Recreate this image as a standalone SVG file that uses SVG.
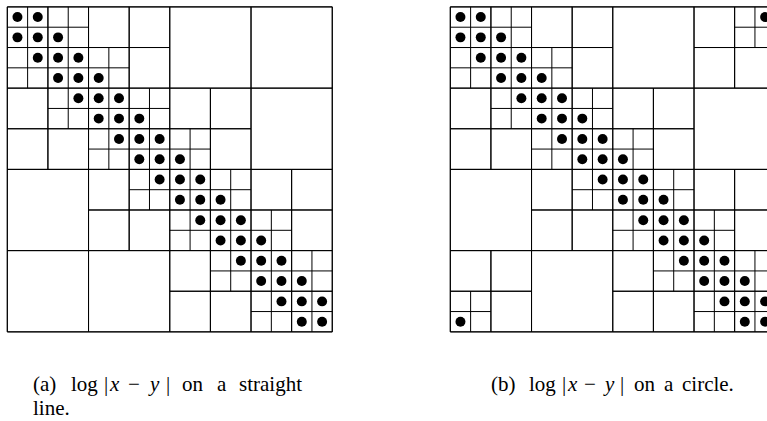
<svg xmlns="http://www.w3.org/2000/svg" xmlns:xlink="http://www.w3.org/1999/xlink" width="767" height="421" viewBox="0 0 767 421">
<style>
.grid{fill:none;stroke:#000;stroke-width:1;vector-effect:non-scaling-stroke}
.dot{fill:#000}
.cap{font-family:"Liberation Serif","Times New Roman",serif;font-size:21px;fill:#000}
.it{font-style:italic}
</style>
<defs>
<circle id="d" class="dot" r="0.245"/>
<g id="band">
<use href="#d" x="0.5" y="0.5"/><use href="#d" x="1.5" y="0.5"/>
<use href="#d" x="0.5" y="1.5"/><use href="#d" x="1.5" y="1.5"/><use href="#d" x="2.5" y="1.5"/>
<use href="#d" x="1.5" y="2.5"/><use href="#d" x="2.5" y="2.5"/><use href="#d" x="3.5" y="2.5"/>
<use href="#d" x="2.5" y="3.5"/><use href="#d" x="3.5" y="3.5"/><use href="#d" x="4.5" y="3.5"/>
<use href="#d" x="3.5" y="4.5"/><use href="#d" x="4.5" y="4.5"/><use href="#d" x="5.5" y="4.5"/>
<use href="#d" x="4.5" y="5.5"/><use href="#d" x="5.5" y="5.5"/><use href="#d" x="6.5" y="5.5"/>
<use href="#d" x="5.5" y="6.5"/><use href="#d" x="6.5" y="6.5"/><use href="#d" x="7.5" y="6.5"/>
<use href="#d" x="6.5" y="7.5"/><use href="#d" x="7.5" y="7.5"/><use href="#d" x="8.5" y="7.5"/>
<use href="#d" x="7.5" y="8.5"/><use href="#d" x="8.5" y="8.5"/><use href="#d" x="9.5" y="8.5"/>
<use href="#d" x="8.5" y="9.5"/><use href="#d" x="9.5" y="9.5"/><use href="#d" x="10.5" y="9.5"/>
<use href="#d" x="9.5" y="10.5"/><use href="#d" x="10.5" y="10.5"/><use href="#d" x="11.5" y="10.5"/>
<use href="#d" x="10.5" y="11.5"/><use href="#d" x="11.5" y="11.5"/><use href="#d" x="12.5" y="11.5"/>
<use href="#d" x="11.5" y="12.5"/><use href="#d" x="12.5" y="12.5"/><use href="#d" x="13.5" y="12.5"/>
<use href="#d" x="12.5" y="13.5"/><use href="#d" x="13.5" y="13.5"/><use href="#d" x="14.5" y="13.5"/>
<use href="#d" x="13.5" y="14.5"/><use href="#d" x="14.5" y="14.5"/><use href="#d" x="15.5" y="14.5"/>
<use href="#d" x="14.5" y="15.5"/><use href="#d" x="15.5" y="15.5"/>
</g>
</defs>

<g id="matrix-a" transform="translate(7.3,6.9) scale(20.31)">
<path class="grid" d="M0 0h16v16h-16z
M8 0h4v4h-4zM12 0h4v4h-4zM12 4h4v4h-4zM0 8h4v4h-4zM0 12h4v4h-4zM4 12h4v4h-4z
M4 0h2v2h-2zM6 0h2v2h-2zM6 2h2v2h-2zM8 4h2v2h-2zM10 4h2v2h-2zM10 6h2v2h-2zM12 8h2v2h-2zM14 8h2v2h-2zM14 10h2v2h-2z
M0 4h2v2h-2zM0 6h2v2h-2zM2 6h2v2h-2zM4 8h2v2h-2zM4 10h2v2h-2zM6 10h2v2h-2zM8 12h2v2h-2zM8 14h2v2h-2zM10 14h2v2h-2z
M0 0h2v2h-2zM1 0v2M0 1h2 M2 2h2v2h-2zM3 2v2M2 3h2 M4 4h2v2h-2zM5 4v2M4 5h2 M6 6h2v2h-2zM7 6v2M6 7h2
M8 8h2v2h-2zM9 8v2M8 9h2 M10 10h2v2h-2zM11 10v2M10 11h2 M12 12h2v2h-2zM13 12v2M12 13h2 M14 14h2v2h-2zM15 14v2M14 15h2
M2 0h2v2h-2zM3 0v2M2 1h2 M4 2h2v2h-2zM5 2v2M4 3h2 M6 4h2v2h-2zM7 4v2M6 5h2 M8 6h2v2h-2zM9 6v2M8 7h2
M10 8h2v2h-2zM11 8v2M10 9h2 M12 10h2v2h-2zM13 10v2M12 11h2 M14 12h2v2h-2zM15 12v2M14 13h2
M0 2h2v2h-2zM1 2v2M0 3h2 M2 4h2v2h-2zM3 4v2M2 5h2 M4 6h2v2h-2zM5 6v2M4 7h2 M6 8h2v2h-2zM7 8v2M6 9h2
M8 10h2v2h-2zM9 10v2M8 11h2 M10 12h2v2h-2zM11 12v2M10 13h2 M12 14h2v2h-2zM13 14v2M12 15h2"/>
<use href="#band"/>
</g>

<g id="matrix-b" transform="translate(450.3,6.9) scale(20.31)">
<path class="grid" d="M0 0h16v16h-16z
M8 0h4v4h-4zM0 8h4v4h-4zM12 4h4v4h-4zM4 12h4v4h-4z
M12 0h2v2h-2zM12 2h2v2h-2zM14 2h2v2h-2zM0 12h2v2h-2zM2 12h2v2h-2zM2 14h2v2h-2z
M14 0h2v2h-2zM15 0v2M14 1h2 M0 14h2v2h-2zM1 14v2M0 15h2
M4 0h2v2h-2zM6 0h2v2h-2zM6 2h2v2h-2zM8 4h2v2h-2zM10 4h2v2h-2zM10 6h2v2h-2zM12 8h2v2h-2zM14 8h2v2h-2zM14 10h2v2h-2z
M0 4h2v2h-2zM0 6h2v2h-2zM2 6h2v2h-2zM4 8h2v2h-2zM4 10h2v2h-2zM6 10h2v2h-2zM8 12h2v2h-2zM8 14h2v2h-2zM10 14h2v2h-2z
M0 0h2v2h-2zM1 0v2M0 1h2 M2 2h2v2h-2zM3 2v2M2 3h2 M4 4h2v2h-2zM5 4v2M4 5h2 M6 6h2v2h-2zM7 6v2M6 7h2
M8 8h2v2h-2zM9 8v2M8 9h2 M10 10h2v2h-2zM11 10v2M10 11h2 M12 12h2v2h-2zM13 12v2M12 13h2 M14 14h2v2h-2zM15 14v2M14 15h2
M2 0h2v2h-2zM3 0v2M2 1h2 M4 2h2v2h-2zM5 2v2M4 3h2 M6 4h2v2h-2zM7 4v2M6 5h2 M8 6h2v2h-2zM9 6v2M8 7h2
M10 8h2v2h-2zM11 8v2M10 9h2 M12 10h2v2h-2zM13 10v2M12 11h2 M14 12h2v2h-2zM15 12v2M14 13h2
M0 2h2v2h-2zM1 2v2M0 3h2 M2 4h2v2h-2zM3 4v2M2 5h2 M4 6h2v2h-2zM5 6v2M4 7h2 M6 8h2v2h-2zM7 8v2M6 9h2
M8 10h2v2h-2zM9 10v2M8 11h2 M10 12h2v2h-2zM11 12v2M10 13h2 M12 14h2v2h-2zM13 14v2M12 15h2"/>
<use href="#band"/>
<use href="#d" x="15.5" y="0.5"/>
<use href="#d" x="0.5" y="15.5"/>
</g>

<g id="captions">
<text class="cap" y="391"><tspan x="33">(a)</tspan><tspan x="71">log</tspan><tspan x="104">|</tspan><tspan x="110" class="it">x</tspan><tspan x="128">−</tspan><tspan x="150" class="it">y</tspan><tspan x="166">|</tspan><tspan x="182">on</tspan><tspan x="217">a</tspan><tspan x="239">straight</tspan></text>
<text class="cap" x="33" y="415">line.</text>
<text class="cap" y="391"><tspan x="491">(b)</tspan><tspan x="529">log</tspan><tspan x="562">|</tspan><tspan x="568" class="it">x</tspan><tspan x="584">−</tspan><tspan x="605" class="it">y</tspan><tspan x="620">|</tspan><tspan x="634">on</tspan><tspan x="664">a</tspan><tspan x="682">circle.</tspan></text>
</g>
</svg>
